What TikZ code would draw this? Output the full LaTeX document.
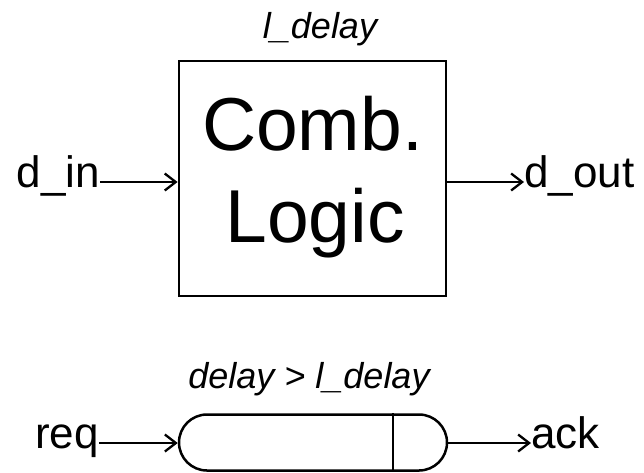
\documentclass[tikz,border=0pt]{standalone}
\usepackage{fontspec}
\setmainfont{Liberation Sans}
\usetikzlibrary{arrows.meta,shapes.misc}

\begin{document}
\begin{tikzpicture}[x=1pt,y=-1pt,
  signal/.style={font=\fontsize{44}{50}\selectfont, inner sep=0pt,
                 text height=20pt, text depth=10pt},
  note/.style={font=\fontsize{36}{42}\selectfont\itshape, inner sep=0pt, anchor=base},
  big/.style={font=\fontsize{75}{88}\selectfont, inner sep=0pt, anchor=base},
  wire/.style={line width=2.3pt, -{Straight Barb[length=11pt,width=17pt,line width=2.3pt]}},
  block/.style={draw, line width=2.8pt, inner sep=0pt}]
  \useasboundingbox (0,0) rectangle (644,472);

  % combinational block
  \node[block, minimum width=267pt, minimum height=235pt] (logic) at (312.5,178.5) {};
  \node[big] (comb) at (312.5,150) {Comb.};
  \node[big] (logicword) at (315,242) {Logic};
  \node[note] (ldelay) at (320,38) {l\_delay};

  % data ports
  \node[signal, anchor=east] (din) at (100,182) {d\_in};
  \node[signal, anchor=west] (dout) at (524,182) {d\_out};
  \draw[wire] (din.east) -- (din.east -| logic.west);
  \draw[wire] (dout.west -| logic.east) -- (dout.west);

  % matched delay element
  \node[draw, line width=2.5pt, rounded rectangle, inner sep=0pt,
        minimum width=268pt, minimum height=56pt] (pill) at (313,442.5) {};
  \coordinate (split) at (393,442.5);
  \draw[line width=2.5pt] (split |- pill.north) -- (split |- pill.south);
  \node[note] (dlabel) at (309,388) {delay > l\_delay};

  % handshake ports
  \node[signal, anchor=east] (req) at (99,443) {req};
  \node[signal, anchor=west] (ack) at (531,443) {ack};
  \draw[wire] (req.east) -- (req.east -| pill.west);
  \draw[wire] (ack.west -| pill.east) -- (ack.west);
\end{tikzpicture}
\end{document}
